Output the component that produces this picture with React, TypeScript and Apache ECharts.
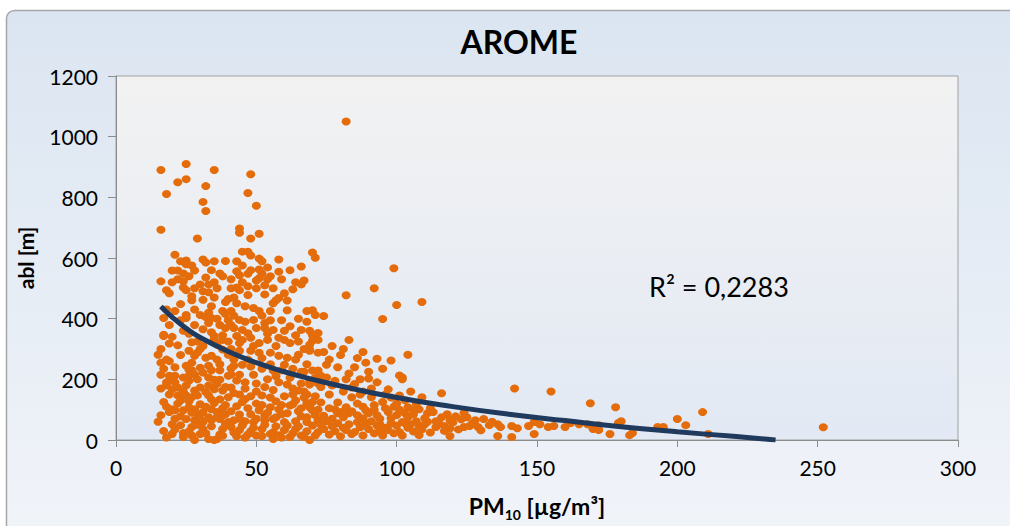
import React, { useEffect, useRef } from "react";
import * as echarts from "echarts";

const chartTitle = "AROME";
const rSquaredLabel = "R² = 0,2283";
const xTicks = [0, 50, 100, 150, 200, 250, 300];
const yTicks = [0, 200, 400, 600, 800, 1000, 1200];

// [PM10, abl]
const pm10Abl: number[][] = [
  [82,1050],[16,890],[25,910],[35,890],[48,876],[22,850],[25,860],[32,837],[18,811],[47,814],[31,785],[32,755],[50,772],[16,693],[29,664],[44,697],[44,683],[48,664],[51,680],
  [58,595],[70,618],[71,601],[66,572],[99,566],[59,530],[67,526],[66,513],[63,497],[60,484],[92,500],[82,477],
  [21,611],[23,589],[25,592],[25,579],[31,595],[32,585],[35,589],[27,575],[28,559],[20,559],[22,559],[24,549],[37,549],[32,536],[22,530],[24,523],[16,523],[30,513],[33,513],[24,503],[25,494],[31,490],[33,487],[18,494],[19,484],[27,474],[27,461],[39,455],[23,448],[21,425],[34,441],[38,425],[39,415],[25,412],[25,402],[30,412],[32,405],[34,402],[33,386],[17,402],[19,379],[28,379],[37,379],[39,369],[41,425],[41,379],[17,347],[35,343],[24,360],
  [45,621],[47,621],[48,608],[51,598],[52,589],[43,589],[45,575],[43,556],[44,543],[51,562],[54,569],[52,549],[50,526],[51,533],[41,500],[43,503],[44,494],[47,507],[50,500],[53,510],[57,461],[58,468],[56,451],[43,451],[46,441],[49,435],[51,425],[55,425],[61,428],[68,425],[70,428],[71,412],[44,396],[49,396],[53,386],[42,369],[45,363],[50,369],[53,369],[56,363],[60,360],[66,363],[69,360],
  [100,445],[95,399],[83,330],[104,281],[89,255],[93,268],[98,262],[95,235],[83,219],[90,203],[101,213],[102,206],[91,170],[97,167],[109,455],[102,200],[116,154],[109,141],[142,170],[155,160],[169,121],
  [74,409],[72,353],[70,327],[69,298],[76,265],[75,248],[72,229],[73,212],[75,206],[79,124],[78,101],[73,124],[69,108],[84,141],[87,150],[91,141],[84,173],[77,180],[69,183],[68,150],[65,163],
  [17,343],[35,333],[38,330],[15,281],[16,255],[18,265],
  [26,294],[28,278],[27,255],[25,245],[29,288],[32,271],[34,278],[36,265],[38,298],[40,281],[42,265],
  [19,212],[21,212],[24,206],[26,212],[28,216],[31,222],[33,206],[35,199],[37,199],[40,212],[41,216],
  [18,180],[20,167],[22,173],[25,180],[28,163],[30,173],[33,180],[35,167],[38,163],[41,173],
  [19,150],[22,147],[25,147],[27,141],[29,147],[33,147],[34,134],[37,134],[40,141],
  [21,98],[24,98],[26,108],[28,101],[31,92],[34,101],[36,92],[39,85],
  [25,69],[28,65],[31,59],[34,65],[37,69],[40,59],
  [20,52],[23,49],[27,43],[31,36],[38,36],[41,43],
  [20,20],[24,23],[33,3],[24,10],[36,3],[19,92],[20,101],[18,190],[20,206],[35,0],
  [43,343],[45,330],[48,337],[51,320],[54,330],[58,337],[62,320],[65,325],[69,314],[72,330],
  [44,294],[48,294],[51,288],[55,288],[58,278],[61,271],[65,281],[69,294],[72,288],
  [42,245],[45,248],[48,242],[52,235],[56,229],[60,248],[63,235],[67,225],[70,229],
  [43,196],[46,190],[50,186],[54,200],[58,190],[61,183],[66,186],[69,196],[72,186],
  [44,150],[48,144],[52,147],[55,140],[60,144],[63,150],[67,140],[71,144],
  [43,111],[47,105],[51,98],[55,108],[58,101],[62,114],[66,105],[70,98],
  [42,65],[46,62],[49,59],[53,65],[56,69],[60,59],[64,62],[68,59],[72,65],
  [44,33],[48,29],[52,36],[56,26],[60,33],[64,36],[68,29],[72,26],[56,3],[69,0],
  [79,88],[80,92],[83,88],[86,82],[90,88],[93,82],[97,92],[100,82],[103,88],
  [75,62],[79,55],[83,52],[86,59],[91,62],[94,52],[98,55],[102,59],
  [74,36],[78,29],[82,33],[85,26],[90,36],[94,29],[97,33],[101,26],
  [101,147],[103,131],
  [104,108],[106,98],[108,101],[111,88],[113,92],[116,75],[118,85],[121,78],[123,68],[125,75],[128,65],[131,69],
  [103,55],[105,52],[108,46],[110,52],[114,43],[117,46],[119,39],[124,43],[126,46],[129,43],[133,49],[136,52],[137,43],[141,46],[143,39],[147,46],[149,59],[151,52],[154,43],[156,46],[160,43],[162,56],[165,52],[168,52],[170,39],[172,49],
  [108,16],[119,13],[136,13],[141,10],[149,20],
  [178,108],[180,62],[179,56],[176,20],[183,16],[170,36],[172,33],[184,23],[193,43],[195,43],[200,69],[203,49],[209,92],[211,20],[252,42],
  [17,125],[22,120],[26,128],[30,118],[35,122],[39,115],[45,125],[50,120],[57,128],[63,118],[68,122],
  [17,235],[21,240],[26,232],[30,238],[33,245],[37,230],[41,236],
  [19,318],[22,312],[27,322],[31,310],[36,315],[40,325],
  [16,82],[23,78],[29,84],[33,75],[38,80],[44,84],[53,80],[59,85],[66,78],[71,82],
  [27,15],[30,20],[38,14],[43,12],[47,18],[52,13],[58,16],[62,10],[66,15],[28,0],
  [35,470],[31,462],[47,478],[40,465],
  [35,520],[38,540],[41,530],[47,548],[55,540],
  [78,195],[81,160],[86,120],[88,110],[92,115],[95,125],[99,110],[85,240],[80,280],[77,310],[87,200],
  [105,160],[107,118],[100,120],[98,140],
  [16,170],[15,60],[17,30],[16,300],[16,215],
  [18,8],[21,35],[26,28],[29,50],[32,22],[34,45],[37,18],[39,52],[42,25],[45,48],[46,8],[49,40],[50,15],[53,50],[55,20],[57,45],[59,8],[61,48],[63,22],[65,45],[67,10],[70,48],[71,15],[73,50],[76,18],[77,45],[80,12],[81,40],[84,20],[87,42],[88,15],[89,55],[92,22],[93,48],[95,15],[96,40],[99,22],[100,48],[102,15],[104,40],[106,28],[107,62],[109,35],[111,60],[112,25],[115,55],[117,30],[120,58],[122,35],[127,55],[130,32],[134,60],
  [18,110],[21,70],[23,130],[27,90],[30,70],[32,110],[36,75],[38,105],[41,95],[44,70],[46,135],[48,85],[50,70],[52,115],[54,90],[57,75],[59,115],[61,88],[64,130],[65,95],[68,75],[70,125],[72,100],[74,80],[76,105],[77,70],[81,75],[82,108],[84,95],[88,72],[89,98],[92,100],[94,70],[96,105],[98,72],[101,100],[104,75],[106,85],[110,72],[112,105],[114,62],[119,65],[124,90],
  [19,260],[21,190],[23,280],[24,160],[26,195],[27,230],[29,200],[30,300],[32,158],[34,230],[36,185],[37,250],[39,175],[41,300],[42,155],[44,215],[46,170],[47,265],[49,215],[50,160],[52,270],[53,175],[55,250],[56,165],[57,210],[59,230],[62,205],[63,170],[64,265],[66,225],[67,160],[68,250],[71,205],[73,175],[74,290],[76,150],
  [18,430],[20,340],[23,395],[26,350],[28,430],[29,325],[31,365],[33,420],[34,355],[36,400],[38,345],[40,395],[42,410],[44,320],[46,390],[47,352],[49,310],[52,410],[54,350],[55,395],[57,310],[59,395],[60,330],[62,375],[64,345],[65,400],[67,300],[68,390],[70,345],
  [79,240],[82,200],[85,185],[86,270],[88,160],[90,225],[93,190],[96,150],[81,300],[88,290],
  [20,520],[26,540],[28,500],[34,560],[36,500],[39,590],[42,470],[45,520],[48,560],[53,480],[54,530],[56,500],[58,555],[62,560],[64,520],[61,460],
];

// logarithmic trend line
const trendPm10 = [16, 20, 25, 30, 40, 50, 60, 70, 80, 100, 120, 140, 160, 180, 200, 220, 235];
const trendAbl = [440, 405, 368, 338, 292, 255, 225, 200, 178, 140, 110, 85, 64, 44, 27, 12, 0];

const FONT = "Lato, 'Open Sans', sans-serif";

export default function App() {
  const ref = useRef<HTMLDivElement>(null);
  useEffect(() => {
    if (!ref.current) return;
    const chart = echarts.init(ref.current, undefined, { renderer: "svg" });
    const trend = trendPm10.map((x, i) => [x, trendAbl[i]]);
    chart.setOption({
      animation: false,
      backgroundColor: "#ffffff",
      graphic: [
        {
          type: "rect",
          z: -100,
          silent: true,
          shape: { x: 6.5, y: 10.5, width: 1020, height: 530, r: 8 },
          style: {
            fill: new echarts.graphic.LinearGradient(0, 0, 0, 1, [
              { offset: 0, color: "#dbe5f1" },
              { offset: 1, color: "#f1f4f9" },
            ]),
            stroke: "#a6a6a6",
            lineWidth: 1.5,
          },
        },
        {
          type: "text",
          z: 100,
          x: 519,
          y: 41,
          style: {
            text: chartTitle,
            fill: "#000",
            font: `bold 32px ${FONT}`,
            textAlign: "center",
            textVerticalAlign: "middle",
          },
        },
        {
          type: "text",
          z: 100,
          x: 649,
          y: 286,
          style: {
            text: rSquaredLabel,
            fill: "#000",
            font: `27px ${FONT}`,
            textAlign: "left",
            textVerticalAlign: "middle",
          },
        },
      ],
      grid: {
        left: 116,
        right: 52,
        top: 76,
        bottom: 83,
        show: true,
        backgroundColor: new echarts.graphic.LinearGradient(0, 0, 0, 1, [
          { offset: 0, color: "#f2f2f2" },
          { offset: 1, color: "#e2e9f4" },
        ]),
        borderColor: "#a0a0a0",
        borderWidth: 1,
      },
      xAxis: {
        type: "value",
        min: xTicks[0],
        max: xTicks[xTicks.length - 1],
        interval: 50,
        name: "{b|PM}{s|10}{b| [µg/m³]}",
        nameLocation: "middle",
        nameGap: 51,
        nameTextStyle: {
          rich: {
            b: { fontSize: 23, fontWeight: "bold", fontFamily: FONT, color: "#000", lineHeight: 30, verticalAlign: "middle" },
            s: { fontSize: 14, fontWeight: "bold", fontFamily: FONT, color: "#000", lineHeight: 14, verticalAlign: "bottom" },
          },
        },
        axisLine: { show: true, lineStyle: { color: "#8c8c8c", width: 1 } },
        axisTick: { show: true, length: 7, lineStyle: { color: "#8c8c8c" } },
        splitLine: { show: false },
        axisLabel: { fontSize: 21, color: "#000", fontFamily: FONT, margin: 17 },
      },
      yAxis: {
        type: "value",
        min: yTicks[0],
        max: yTicks[yTicks.length - 1],
        interval: 200,
        name: "abl [m]",
        nameLocation: "middle",
        nameGap: 80,
        nameRotate: 90,
        nameTextStyle: { fontSize: 21, fontWeight: "bold", fontFamily: FONT, color: "#000" },
        axisLine: { show: true, lineStyle: { color: "#8c8c8c", width: 1 } },
        axisTick: { show: true, length: 8, lineStyle: { color: "#8c8c8c" } },
        splitLine: { show: false },
        axisLabel: { fontSize: 21, color: "#000", fontFamily: FONT, margin: 18, formatter: (v: number) => String(v) },
      },
      series: [
        {
          type: "scatter",
          data: pm10Abl,
          symbol: "circle",
          symbolSize: [9, 8],
          itemStyle: { color: "#e46c0a", opacity: 1 },
          z: 2,
        },
        {
          type: "line",
          data: trend,
          smooth: true,
          showSymbol: false,
          symbol: "none",
          lineStyle: { color: "#1f3a5c", width: 5 },
          z: 3,
        },
      ],
    });
    return () => chart.dispose();
  }, []);
  return (
    <div
      ref={ref}
      style={{ position: "absolute", left: 0, top: 0, width: 1010, height: 526 }}
    />
  );
}
